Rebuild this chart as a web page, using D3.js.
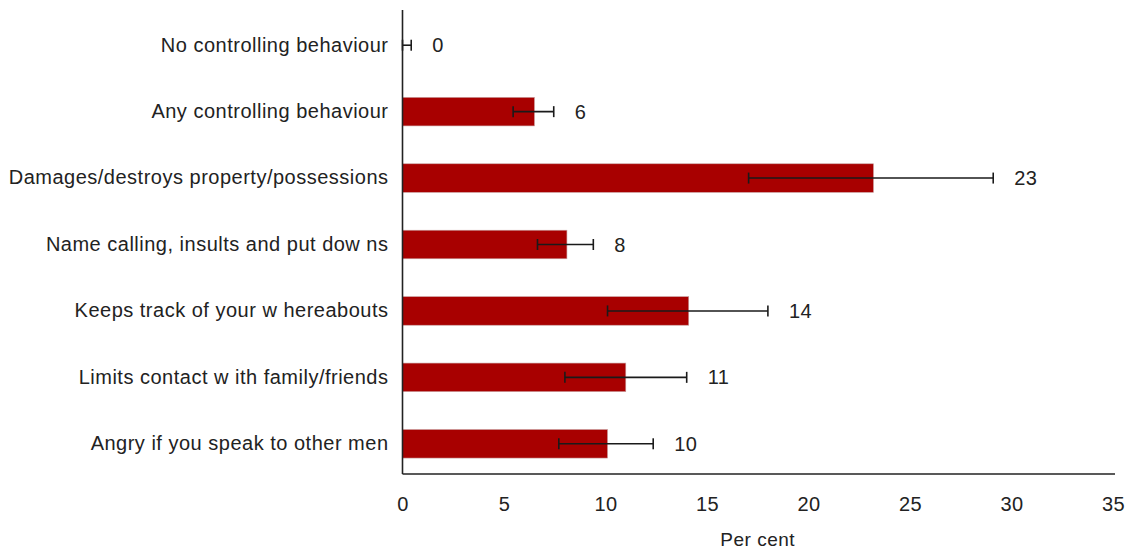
<!DOCTYPE html>
<html>
<head>
<meta charset="utf-8">
<script src="https://cdn.jsdelivr.net/npm/d3@7"></script>
<style>
    body { margin: 0; background: #fff; }
    svg { display: block; }
    text { font-family: "Liberation Sans", Arial, sans-serif; fill: #222; letter-spacing: 0.5px; }
</style>
</head>
<body>
<div id="chart"></div>
<script>
// categories, top to bottom
const categories = [
    "No controlling behaviour",
    "Any controlling behaviour",
    "Damages/destroys property/possessions",
    "Name calling, insults and put dow ns",
    "Keeps track of your w hereabouts",
    "Limits contact w ith family/friends",
    "Angry if you speak to other men"
];
const values = [0, 6.5, 23.2, 8.1, 14.1, 11.0, 10.1];
const valueLabels = ["0", "6", "23", "8", "14", "11", "10"];
// confidence interval ends
const lower = [0, 5.45, 17.05, 6.65, 10.1, 8.0, 7.7];
const upper = [0.43, 7.45, 29.1, 9.4, 18.0, 14.0, 12.35];
const xTicks = [0, 5, 10, 15, 20, 25, 30, 35];

const width = 1129, height = 552;
const barColor = "#a80000";
const fontSize = 20;

const rows = categories.map((c, i) => ({
    cat: c, value: values[i], label: valueLabels[i], lo: lower[i], hi: upper[i]
}));

const svg = d3.select("#chart").append("svg")
    .attr("width", width)
    .attr("height", height);

const x = d3.scaleLinear().domain([0, 35]).range([402.5, 1113]);
const y = d3.scaleBand().domain(categories).range([12, 477]).paddingInner(0.57).paddingOuter(0.285);

const axisY = 474;

// bars
svg.append("g").selectAll("rect")
    .data(rows)
    .join("rect")
    .attr("x", x(0))
    .attr("y", d => y(d.cat))
    .attr("width", d => x(d.value) - x(0))
    .attr("height", y.bandwidth())
    .attr("fill", barColor)
    .attr("stroke", "#c8a0a0")
    .attr("stroke-width", 0.6);

// error bars
const capH = 11;
const err = svg.append("g").attr("stroke", "#1a1a1a").attr("stroke-width", 1.6);
rows.forEach(d => {
    const cy = y(d.cat) + y.bandwidth() / 2;
    err.append("line").attr("x1", x(d.lo)).attr("x2", x(d.hi)).attr("y1", cy).attr("y2", cy);
    err.append("line").attr("x1", x(d.lo)).attr("x2", x(d.lo)).attr("y1", cy - capH / 2).attr("y2", cy + capH / 2);
    err.append("line").attr("x1", x(d.hi)).attr("x2", x(d.hi)).attr("y1", cy - capH / 2).attr("y2", cy + capH / 2);
});

// value labels
svg.append("g").selectAll("text")
    .data(rows)
    .join("text")
    .attr("x", d => x(d.hi) + 21)
    .attr("y", d => y(d.cat) + y.bandwidth() / 2)
    .attr("dy", "0.35em")
    .attr("font-size", fontSize)
    .text(d => d.label);

// y axis (labels only, no ticks)
const yAxis = svg.append("g")
    .attr("transform", `translate(${x(0)},0)`)
    .call(d3.axisLeft(y).tickSize(0).tickPadding(14));
yAxis.select(".domain").remove();
yAxis.selectAll("text").attr("font-size", fontSize).attr("font-family", null);

// x axis (labels only)
const xAxis = svg.append("g")
    .attr("transform", `translate(0,${axisY})`)
    .call(d3.axisBottom(x).tickValues(xTicks).tickSize(0).tickPadding(23));
xAxis.select(".domain").remove();
xAxis.selectAll("text").attr("font-size", fontSize).attr("font-family", null);

// axis lines
svg.append("line")
    .attr("x1", x(0)).attr("x2", x(0))
    .attr("y1", 10).attr("y2", axisY)
    .attr("stroke", "#222").attr("stroke-width", 1.6);
svg.append("line")
    .attr("x1", x(0)).attr("x2", 1115)
    .attr("y1", axisY).attr("y2", axisY)
    .attr("stroke", "#222").attr("stroke-width", 1.6);

// axis title
svg.append("text")
    .attr("x", (x(0) + x(35)) / 2)
    .attr("y", 539)
    .attr("dy", "0.35em")
    .attr("text-anchor", "middle")
    .attr("font-size", 19)
    .text("Per cent");
</script>
</body>
</html>
